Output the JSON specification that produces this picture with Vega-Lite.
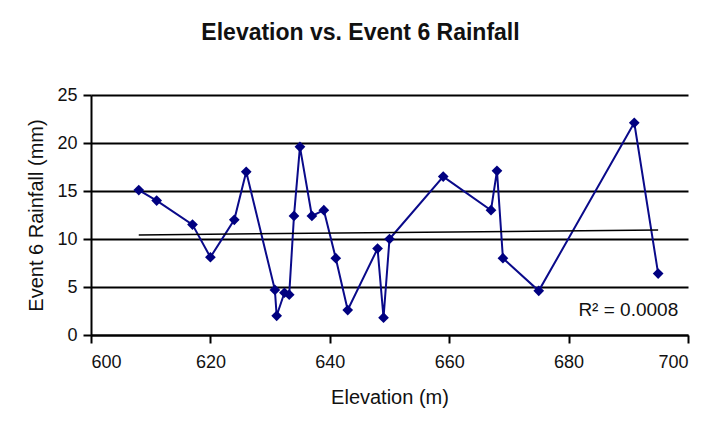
{
  "$schema": "https://vega.github.io/schema/vega-lite/v6.json",
  "width": 597,
  "height": 240,
  "autosize": {"type": "none"},
  "padding": {"left": 91, "top": 95, "right": 33, "bottom": 98},
  "background": "white",
  "title": {
    "text": "Elevation vs. Event 6 Rainfall",
    "font": "Liberation Sans",
    "fontSize": 23,
    "fontWeight": "bold",
    "color": "#111111",
    "anchor": "middle",
    "frame": "group",
    "dx": -29,
    "offset": 41
  },
  "config": {
    "view": {"stroke": null},
    "axis": {
      "labelFont": "Liberation Sans",
      "titleFont": "Liberation Sans",
      "labelFontSize": 18,
      "titleFontSize": 20,
      "titleFontWeight": "normal",
      "labelColor": "#111111",
      "titleColor": "#111111",
      "domainColor": "black",
      "domainWidth": 2,
      "tickColor": "black",
      "tickWidth": 2,
      "tickSize": 8
    }
  },
  "datasets": {
    "trend": [
      {"elev": 608, "rain": 10.42},
      {"elev": 695, "rain": 10.94}
    ],
    "note": [
      {"elev": 690, "rain": 2.6, "label": "R² = 0.0008"}
    ]
  },
  "data": {
    "values": [
      {"elev": 608, "rain": 15.1},
      {"elev": 611, "rain": 14.0},
      {"elev": 617, "rain": 11.5},
      {"elev": 620, "rain": 8.1},
      {"elev": 624, "rain": 12.0},
      {"elev": 626, "rain": 17.0},
      {"elev": 630.8, "rain": 4.7},
      {"elev": 631.1, "rain": 2.0},
      {"elev": 632.4, "rain": 4.4},
      {"elev": 633.2, "rain": 4.2},
      {"elev": 634, "rain": 12.4},
      {"elev": 635, "rain": 19.6},
      {"elev": 637, "rain": 12.4},
      {"elev": 639, "rain": 13.0},
      {"elev": 641, "rain": 8.0},
      {"elev": 643, "rain": 2.6},
      {"elev": 648, "rain": 9.0},
      {"elev": 649, "rain": 1.8},
      {"elev": 650, "rain": 10.0},
      {"elev": 659, "rain": 16.5},
      {"elev": 667, "rain": 13.0},
      {"elev": 668, "rain": 17.1},
      {"elev": 669, "rain": 8.0},
      {"elev": 675, "rain": 4.6},
      {"elev": 691, "rain": 22.1},
      {"elev": 695, "rain": 6.4}
    ]
  },
  "encoding": {
    "x": {
      "field": "elev",
      "type": "quantitative",
      "scale": {"domain": [600, 700], "zero": false, "nice": false},
      "axis": {"values": [600, 620, 640, 660, 680, 700], "grid": false, "title": "Elevation (m)", "labelPadding": 10, "titlePadding": 16}
    },
    "y": {
      "field": "rain",
      "type": "quantitative",
      "scale": {"domain": [0, 25], "nice": false},
      "axis": {"values": [0, 5, 10, 15, 20, 25], "grid": true, "gridColor": "black", "gridWidth": 2, "gridOpacity": 1, "title": "Event 6 Rainfall (mm)", "labelPadding": 6, "titlePadding": 10}
    }
  },
  "layer": [
    {
      "mark": {"type": "line", "color": "#0a0a8a", "strokeWidth": 2}
    },
    {
      "mark": {"type": "point", "shape": "diamond", "filled": true, "color": "#000080", "size": 115, "opacity": 1}
    },
    {
      "data": {"name": "trend"},
      "mark": {"type": "line", "color": "black", "strokeWidth": 1.5}
    },
    {
      "data": {"name": "note"},
      "mark": {"type": "text", "font": "Liberation Sans", "fontSize": 19, "color": "#111111", "align": "center", "baseline": "middle"},
      "encoding": {"text": {"field": "label"}}
    }
  ]
}
